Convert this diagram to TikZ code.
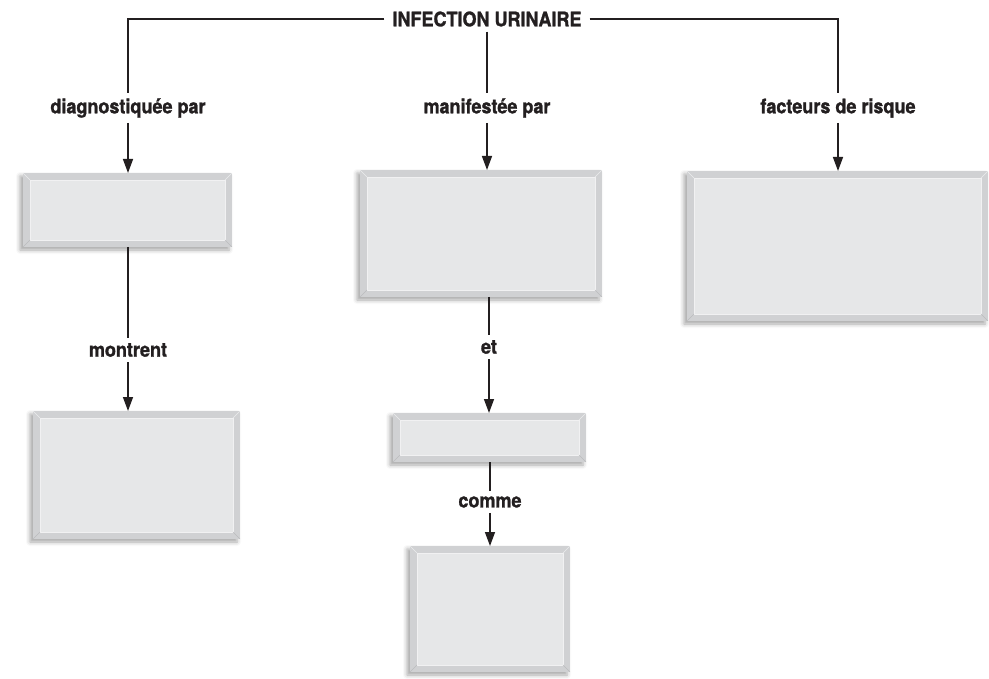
\documentclass[tikz,border=0pt]{standalone}
\usepackage{fontspec}
\setmainfont{TeX Gyre Heros}[FakeStretch=0.9, BoldFeatures={FakeBold=1.3}]
\usetikzlibrary{arrows.meta,shadows.blur}
\definecolor{boxout}{HTML}{D0D1D3}
\definecolor{boxin}{HTML}{E6E7E8}
\definecolor{txt}{HTML}{231F20}
\tikzset{
  bevelbox/.style={rectangle, inner sep=0pt, outer sep=0pt, fill=boxout,
    blur shadow={shadow xshift=-3pt, shadow yshift=-3pt, shadow blur radius=4pt, shadow opacity=35},
    path picture={
      \fill[boxin] ([shift={(7pt,7pt)}]path picture bounding box.south west) rectangle ([shift={(-7pt,-7pt)}]path picture bounding box.north east);
      \draw[white!70!boxout, line width=0.6pt] ([shift={(7pt,7pt)}]path picture bounding box.south west) rectangle ([shift={(-7pt,-7pt)}]path picture bounding box.north east);
      \draw[boxout!90!black, line width=0.4pt] (path picture bounding box.south west) -- ([shift={(7pt,7pt)}]path picture bounding box.south west);
      \draw[boxout!90!black, line width=0.4pt] (path picture bounding box.south east) -- ([shift={(-7pt,7pt)}]path picture bounding box.south east);
      \draw[white!60!boxout, line width=0.4pt] (path picture bounding box.north west) -- ([shift={(7pt,-7pt)}]path picture bounding box.north west);
      \draw[white!60!boxout, line width=0.4pt] (path picture bounding box.north east) -- ([shift={(-7pt,-7pt)}]path picture bounding box.north east);
    }},
  lbl/.style={inner sep=5pt, text=txt, font=\fontsize{20}{24}\selectfont\bfseries},
  conn/.style={draw=txt, line width=1.4pt},
  arr/.style={conn, -{Triangle[length=14pt,width=10pt]}},
}
\begin{document}
\begin{tikzpicture}[x=1pt,y=-1pt]
\useasboundingbox (0,0) rectangle (989,679);
% boxes
\node[bevelbox, minimum width=209pt, minimum height=74pt] (b1) at (127.5,210) {};
\node[bevelbox, minimum width=242pt, minimum height=127pt] (b2) at (481,233.5) {};
\node[bevelbox, minimum width=301pt, minimum height=150pt] (b3) at (837.5,246) {};
\node[bevelbox, minimum width=207pt, minimum height=128pt] (b4) at (136.5,475) {};
\node[bevelbox, minimum width=193pt, minimum height=49pt] (b5) at (489.5,437.5) {};
\node[bevelbox, minimum width=160pt, minimum height=126pt] (b6) at (490,609) {};
% labels
\node[lbl, inner xsep=8pt] (t) at (487,19) {INFECTION URINAIRE};
\node[lbl] (l1) at (128,108) {diagnostiquée par};
\node[lbl] (l2) at (487,108) {manifestée par};
\node[lbl] (l3) at (838,108) {facteurs de risque};
\node[lbl] (l4) at (128,350) {montrent};
\node[lbl] (l5) at (489,347) {et};
\node[lbl] (l6) at (490,502) {comme};
% connectors
\draw[conn] (t.west) -| (l1.north);
\draw[conn] (t.east) -| (l3.north);
\draw[conn] (t.south) -- (l2.north);
\draw[arr] (l1.south) -- (l1.south |- b1.north);
\draw[arr] (l2.south) -- (l2.south |- b2.north);
\draw[arr] (l3.south) -- (l3.south |- b3.north);
\draw[conn] (l4.north |- b1.south) -- (l4.north);
\draw[arr] (l4.south) -- (l4.south |- b4.north);
\draw[conn] (l5.north |- b2.south) -- (l5.north);
\draw[arr] (l5.south) -- (l5.south |- b5.north);
\draw[conn] (l6.north |- b5.south) -- (l6.north);
\draw[arr] (l6.south) -- (l6.south |- b6.north);
\end{tikzpicture}
\end{document}
